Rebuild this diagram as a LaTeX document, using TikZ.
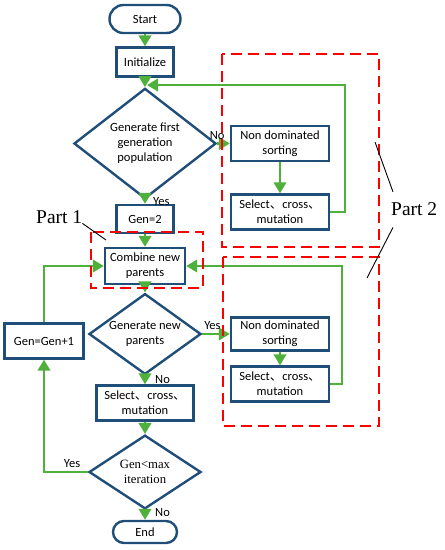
\documentclass[tikz,border=0pt]{standalone}
\usepackage{fontspec}
\setmainfont{Carlito}
\newfontfamily\partfont{Liberation Serif}
\newfontfamily\cjk{Noto Sans CJK SC}
\usetikzlibrary{shapes.geometric,arrows.meta}
\definecolor{boxblue}{RGB}{31,78,121}
\definecolor{flowgreen}{RGB}{80,176,60}
\newcommand{\dun}{{\cjk 、}}
\begin{document}
\begin{tikzpicture}[x=1pt,y=-1pt,
    box/.style={draw=boxblue,line width=2.4pt,rectangle,align=center,inner sep=0pt,
      font=\fontsize{12.5}{15}\selectfont},
    decision/.style={box,diamond},
    flow/.style={draw=flowgreen,line width=2.4pt,-{Triangle[width=12.5pt,length=11pt]}},
    lbl/.style={inner sep=1pt,font=\fontsize{12.5}{15}\selectfont},
    part/.style={draw=red,line width=2.6pt,dash pattern=on 11pt off 6pt},
    partlabel/.style={inner sep=0pt,font=\partfont\fontsize{19.5}{22}\selectfont},
    lead/.style={draw=black,line width=0.9pt}]
      \useasboundingbox (0,0) rectangle (445,550);
      \path
        (145,19) node[box,minimum width=71pt,minimum height=28pt,rounded corners=14pt] (0) {Start}
        (145,62) node[box,minimum width=57pt,minimum height=29pt] (1) {Initialize}
        (145,143.5) node[decision,minimum width=142pt,minimum height=89pt] (2) {Generate first\\generation\\population}
        (280,143.5) node[box,minimum width=98pt,minimum height=35pt] (3) {Non dominated\\sorting}
        (280,212) node[box,minimum width=98pt,minimum height=35pt] (4) {Select\dun cross\dun\\mutation}
        (145,219) node[box,minimum width=57pt,minimum height=28pt] (5) {Gen=2}
        (145,266) node[box,minimum width=80pt,minimum height=36pt] (6) {Combine new\\parents}
        (145,334) node[decision,minimum width=112pt,minimum height=66pt,inner xsep=-8pt] (7) {Generate new\\parents}
        (280,334) node[box,minimum width=98pt,minimum height=33pt] (8) {Non dominated\\sorting}
        (280,384) node[box,minimum width=98pt,minimum height=35pt] (9) {Select\dun cross\dun\\mutation}
        (44,341) node[box,minimum width=79pt,minimum height=35pt] (10) {Gen=Gen+1}
        (145,403) node[box,minimum width=97pt,minimum height=35pt] (11) {Select\dun cross\dun\\mutation}
        (145,472) node[decision,minimum width=112pt,minimum height=68pt,font=\partfont\fontsize{12.7}{15}\selectfont] (12) {Gen<max\\iteration}
        (145,532) node[box,minimum width=64pt,minimum height=22pt,rounded corners=11pt] (13) {End};
      \coordinate (a1) at (345,85);
      \coordinate (a2) at (147,85);
      \coordinate (a3) at (342,266);
      \begin{scope}[flow]
        \draw (0) to (1);
        \draw (1) to (2);
        \draw (2) to node[lbl,pos=0,above=2pt] {No} (3);
        \draw (3) to (4);
        \draw (4.east) -| (a1) -- (a2);
        \draw (2) to node[lbl,pos=0.4,right=6pt] {Yes} (5);
        \draw (5) to (6);
        \draw (6) to (7);
        \draw (7) to node[lbl,pos=0.37,above=2pt] {Yes} (8);
        \draw (8) to (9);
        \draw (9.east) -| (a3) -- (6.east);
        \draw (7) to node[lbl,pos=0.4,right=8pt] {No} (11);
        \draw (11) to (12);
        \draw (12.west) -| node[lbl,pos=0.18,above=2pt] {Yes} (10.south);
        \draw (10.north) |- (6.west);
        \draw (12) to node[lbl,pos=0.3,right=8pt] {No} (13);
      \end{scope}
      \begin{scope}[part]
        \draw (222,54) rectangle (379,247);
        \draw (91,232) rectangle (203,288);
        \draw (223,257) rectangle (379,426);
      \end{scope}
      \node[partlabel,anchor=base west] (p1) at (36,223) {Part 1};
      \node[partlabel,anchor=base west] (p2) at (391,215) {Part 2};
      \coordinate (q1) at (106,240);
      \coordinate (q2) at (375,142);
      \coordinate (q3) at (367,278);
      \draw[lead] (p1.south east) -- (q1);
      \draw[lead] (q2) -- ([shift={(2,-10)}]p2.north west);
      \draw[lead] ([shift={(2,12)}]p2.south west) -- (q3);
    \end{tikzpicture}
\end{document}
